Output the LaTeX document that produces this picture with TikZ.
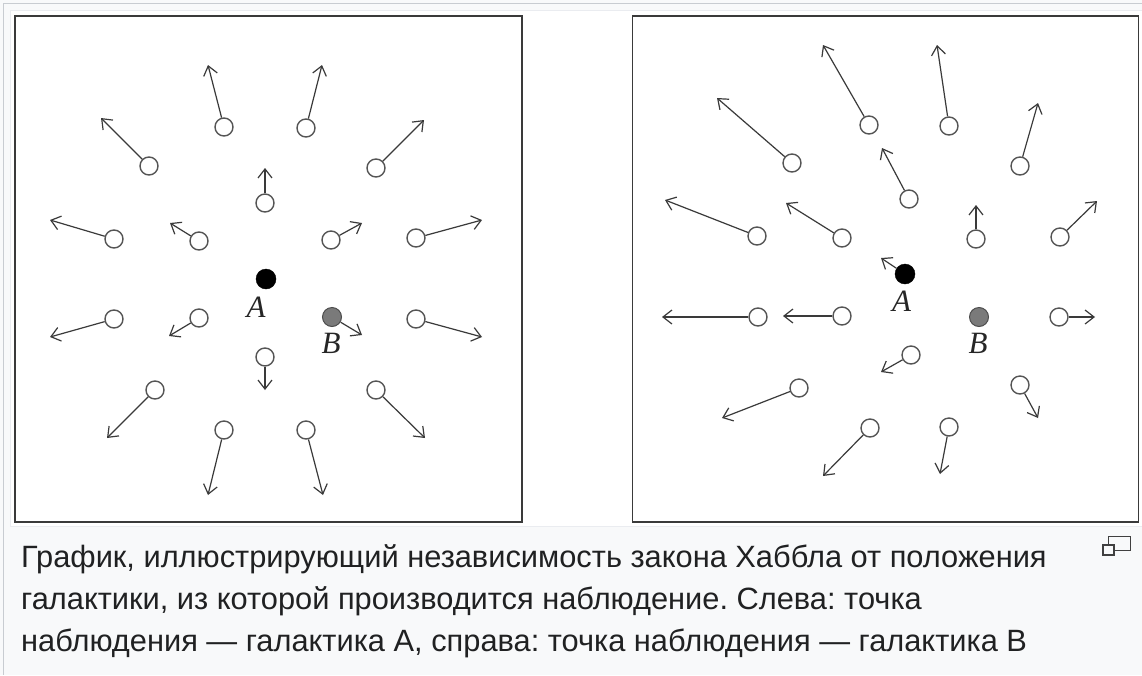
\documentclass[tikz,border=0pt]{standalone}
\usepackage{fontspec}
\setmainfont{Liberation Sans}
\newfontfamily\lblfont{Liberation Serif}
\usetikzlibrary{arrows.meta}
\definecolor{thumbbg}{HTML}{F8F9FA}
\definecolor{thumbborder}{HTML}{C8CCD1}
\definecolor{imgborder}{HTML}{EAECF0}
\definecolor{frameC}{HTML}{3A3A3A}
\definecolor{galC}{HTML}{555555}
\definecolor{arrC}{HTML}{3A3A3A}
\definecolor{textC}{HTML}{202122}
\tikzset{
  panel/.style={draw=frameC, line width=1.8pt},
  gal/.style={circle, draw=galC, line width=1.4pt, fill=white, minimum size=18pt, inner sep=0pt},
  galA/.style={circle, fill=black, draw=black, minimum size=20pt, inner sep=0pt},
  galB/.style={circle, fill=black!52, draw=black!70, line width=1pt, minimum size=19pt, inner sep=0pt},
  vel/.style={draw=arrC, line width=1.2pt, -{Straight Barb[length=9pt,width=14pt,line width=1.2pt]}},
  lbl/.style={font=\lblfont\itshape\fontsize{31}{31}\selectfont, inner sep=0pt, text=black!85},
  captxt/.style={anchor=base west, inner sep=0pt, text=textC, font=\fontsize{30.8}{30.8}\selectfont},
}
\begin{document}
\frenchspacing
\begin{tikzpicture}[x=1pt,y=-1pt]
\useasboundingbox (0,0) rectangle (1142,675);
% thumbnail background
\fill[thumbbg] (0,0) rectangle (1142,675);
\draw[thumbborder, line width=1pt] (3,3) -- (1142,3);
\draw[thumbborder, line width=1pt] (3,3) -- (3,675);
\fill[white] (10,10) rectangle (1142,526);
\draw[imgborder, line width=1pt] (10,10) -- (1142,10);
\draw[imgborder, line width=1pt] (10,10) -- (10,526) -- (1142,526);
% panels
\node[panel, minimum width=507pt, minimum height=506pt, inner sep=0pt] (PL) at (268.5,269) {};
\node[panel, minimum width=506pt, minimum height=506pt, inner sep=0pt] (PR) at (885.5,269) {};

% ---------- left panel: observer A ----------
\node[galA] (LA) at (266,279) {};
\node[lbl] (LAl) at (256,307.5) {A};
\node[galB] (LB) at (332,317) {};
\node[lbl] (LBl) at (331,343.5) {B};
\coordinate (LBt) at (362,335);
\draw[vel] (LB) -- (LBt);
\foreach \x/\y/\tx/\ty [count=\i] in {
  224/127/208/65, 306/128/322/65, 149/166/101/118, 376/168/424/120,
  265/203/265/168, 114/239/50/220, 199/241/170/223, 331/240/362/223,
  416/238/482/220, 114/319/50/337, 199/318/169/336, 416/319/482/337,
  265/357/265/390, 155/390/107/438, 376/390/425/438, 224/430/208/495,
  306/430/323/495}{
  \node[gal] (L\i) at (\x,\y) {};
  \coordinate (LT\i) at (\tx,\ty);
  \draw[vel] (L\i) -- (LT\i);
}

% ---------- right panel: observer B ----------
\node[galA] (RA) at (905,274) {};
\coordinate (RAt) at (881,258);
\draw[vel] (RA) -- (RAt);
\node[lbl] (RAl) at (901.5,301) {A};
\node[galB] (RB) at (979,317) {};
\node[lbl] (RBl) at (978,343) {B};
\foreach \x/\y/\tx/\ty [count=\i] in {
  869/125/823/45, 949/126/937/45, 792/163/717/98, 1020/166/1038/103,
  909/199/882/148, 757/236/665/200, 842/238/786/203, 976/239/976/205,
  1060/237/1097/201, 758/317/662/317, 842/316/783/316, 1059/317/1095/317,
  911/355/881/372, 799/388/722/418, 1020/385/1038/418, 870/428/823/476,
  949/427/940/474}{
  \node[gal] (R\i) at (\x,\y) {};
  \coordinate (RT\i) at (\tx,\ty);
  \draw[vel] (R\i) -- (RT\i);
}

% ---------- caption ----------
\node[captxt] (c1) at (21,567) {График, иллюстрирующий независимость закона Хаббла от положения};
\node[captxt] (c2) at (21,609) {галактики, из которой производится наблюдение. Слева: точка};
\node[captxt] (c3) at (21,651) {наблюдения — галактика A, справа: точка наблюдения — галактика B};
% magnify icon
\draw[black!75, line width=1.3pt] (1108.5,536.5) rectangle (1130.5,550.5);
\draw[black!75, line width=1.3pt, fill=thumbbg] (1103,545) rectangle (1114,555);
\end{tikzpicture}
\end{document}
